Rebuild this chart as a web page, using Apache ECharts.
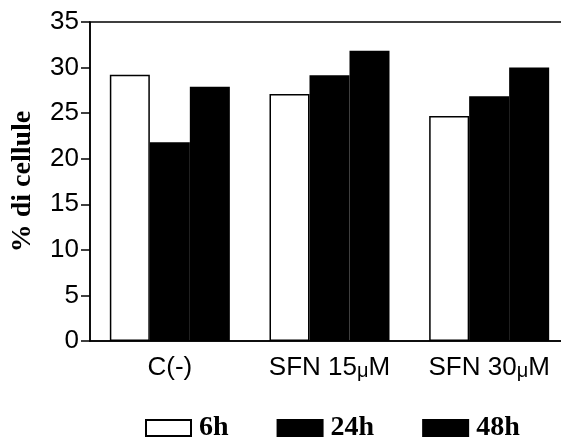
<!DOCTYPE html>
<html>
<head>
<meta charset="utf-8">
<script src="https://cdn.jsdelivr.net/npm/echarts@6/dist/echarts.min.js"></script>
<style>
  html, body { margin: 0; padding: 0; background: #fff; }
  #chart { width: 561px; height: 443px; }
</style>
</head>
<body>
<div id="chart"></div>
<script>
  // categories and series
  var categories = ['C(-)', 'SFN 15μM', 'SFN 30μM'];
  var seriesNames = ['6h', '24h', '48h'];
  var values6h = [29.2, 27.1, 24.7];
  var values24h = [21.8, 29.15, 26.85];
  var values48h = [27.9, 31.85, 30.0];
  var yTicks = [0, 5, 10, 15, 20, 25, 30, 35];

  var fills = ['#ffffff', '#000000', '#000000'];
  var allValues = [values6h, values24h, values48h];

  var series = [];
  for (var i = 0; i < seriesNames.length; i++) {
    series.push({
      name: seriesNames[i],
      type: 'bar',
      barWidth: 40,
      barGap: '0%',
      data: allValues[i],
      itemStyle: {color: fills[i], borderColor: '#000', borderWidth: 1.5},
      emphasis: {disabled: true}
    });
  }

  var option = {
    animation: false,
    backgroundColor: '#fff',
    grid: {
      left: 90, top: 22, width: 479, height: 319,
      show: true, borderColor: '#000', borderWidth: 1.5,
      outerBoundsMode: 'none'
    },
    legend: {
      left: 145, top: 414, padding: 0,
      itemWidth: 45, itemHeight: 16, itemGap: 48,
      icon: 'rect',
      data: seriesNames,
      textStyle: {fontFamily: 'Liberation Serif', fontWeight: 'bold', fontSize: 28, color: '#000', padding: [0, 0, 0, 3]}
    },
    xAxis: {
      type: 'category',
      data: categories,
      axisLine: {lineStyle: {color: '#000', width: 1.5}},
      axisTick: {show: false},
      axisLabel: {
        interval: 0, hideOverlap: false,
        fontFamily: 'Liberation Sans', fontSize: 26, lineHeight: 26, color: '#000', margin: 14,
        formatter: function (v) { return v.replace('μ', '{mu|μ}'); },
        rich: {
          mu: {fontFamily: 'Liberation Sans', fontSize: 20, lineHeight: 18, verticalAlign: 'bottom', color: '#000'}
        }
      }
    },
    yAxis: {
      type: 'value',
      min: yTicks[0], max: yTicks[yTicks.length - 1], interval: 5,
      name: '% di cellule',
      nameLocation: 'middle',
      nameGap: 53,
      nameTextStyle: {fontFamily: 'Liberation Serif', fontWeight: 'bold', fontSize: 28, color: '#000'},
      axisLine: {show: true, lineStyle: {color: '#000', width: 1.5}},
      axisTick: {show: true, length: 9, lineStyle: {color: '#000', width: 1.5}},
      axisLabel: {fontFamily: 'Liberation Sans', fontSize: 26, color: '#000', margin: 11},
      splitLine: {show: false}
    },
    series: series
  };

  echarts.init(document.getElementById('chart')).setOption(option);
</script>
</body>
</html>
